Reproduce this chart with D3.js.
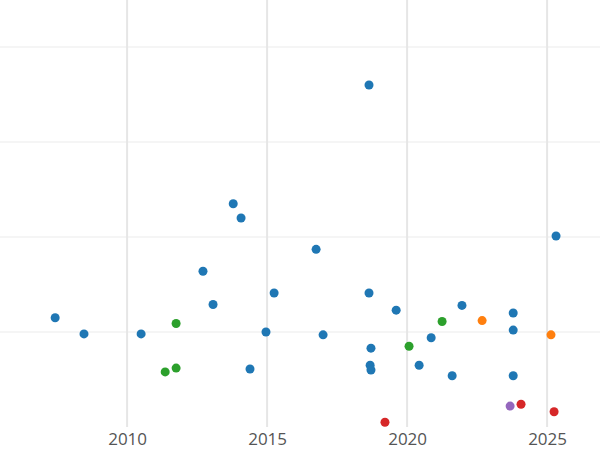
<!DOCTYPE html>
<html>
<head>
<meta charset="utf-8">
<script src="https://cdn.jsdelivr.net/npm/d3@7"></script>
<style>
  body { margin: 0; background: #fff; }
  text { font-family: "Open Sans", "DejaVu Sans", sans-serif; }
</style>
</head>
<body>
<svg id="chart"></svg>
<script>
// Year and value of each point, grouped by colour
const blueYears = [2007.43, 2008.46, 2010.5, 2012.71, 2013.07, 2013.79, 2014.07, 2014.39, 2014.96, 2015.25, 2016.75, 2017.0, 2018.64, 2018.64, 2018.71, 2018.68, 2018.71, 2019.61, 2020.43, 2020.86, 2021.61, 2021.96, 2023.79, 2023.79, 2023.79, 2025.32];
const blueValues = [1.15, 0.98, 0.98, 1.64, 1.29, 2.35, 2.2, 0.61, 1.0, 1.41, 1.87, 0.97, 3.6, 1.41, 0.83, 0.65, 0.6, 1.23, 0.65, 0.94, 0.54, 1.28, 1.2, 1.02, 0.54, 2.01];
const greenYears = [2011.75, 2011.36, 2011.75, 2020.07, 2021.25];
const greenValues = [1.09, 0.58, 0.62, 0.85, 1.11];
const orangeYears = [2022.68, 2025.14];
const orangeValues = [1.12, 0.97];
const redYears = [2019.21, 2024.07, 2025.25];
const redValues = [0.05, 0.24, 0.16];
const purpleYears = [2023.68];
const purpleValues = [0.22];

const xTicks = [2010, 2015, 2020, 2025];
const yGrid = [1, 2, 3, 4];

const width = 600, height = 450;
const plotBottom = 427;

const svg = d3.select('#chart').attr('width', width).attr('height', height);

const x = d3.scaleLinear().domain([2005.46, 2026.89]).range([0, width]);
const y = d3.scaleLinear().domain([0, 4]).range([plotBottom, 47]);

// horizontal grid
svg.append('g').selectAll('line').data(yGrid).enter().append('line')
    .attr('x1', 0).attr('x2', width)
    .attr('y1', d => y(d)).attr('y2', d => y(d))
    .attr('stroke', '#ebebeb').attr('stroke-width', 1);

// vertical grid
svg.append('g').selectAll('line').data(xTicks).enter().append('line')
    .attr('x1', d => x(d)).attr('x2', d => x(d))
    .attr('y1', 0).attr('y2', plotBottom)
    .attr('stroke', '#e6e6e6').attr('stroke-width', 2);

// x axis labels
const xAxis = svg.append('g')
    .attr('transform', `translate(0,${plotBottom})`)
    .call(d3.axisBottom(x).tickValues(xTicks).tickFormat(d3.format('d')).tickSize(0).tickPadding(6));
xAxis.select('.domain').remove();
xAxis.selectAll('text').attr('fill', '#555').style('font-size', '17px');

const groups = [
    { years: blueYears, values: blueValues, color: '#1f77b4' },
    { years: greenYears, values: greenValues, color: '#2ca02c' },
    { years: orangeYears, values: orangeValues, color: '#ff7f0e' },
    { years: redYears, values: redValues, color: '#d62728' },
    { years: purpleYears, values: purpleValues, color: '#9467bd' }
];

groups.forEach(g => {
    svg.append('g').selectAll('circle')
        .data(g.years.map((yr, i) => [yr, g.values[i]]))
        .enter().append('circle')
        .attr('cx', d => x(d[0]))
        .attr('cy', d => y(d[1]))
        .attr('r', 4.5)
        .attr('fill', g.color);
});
</script>
</body>
</html>
